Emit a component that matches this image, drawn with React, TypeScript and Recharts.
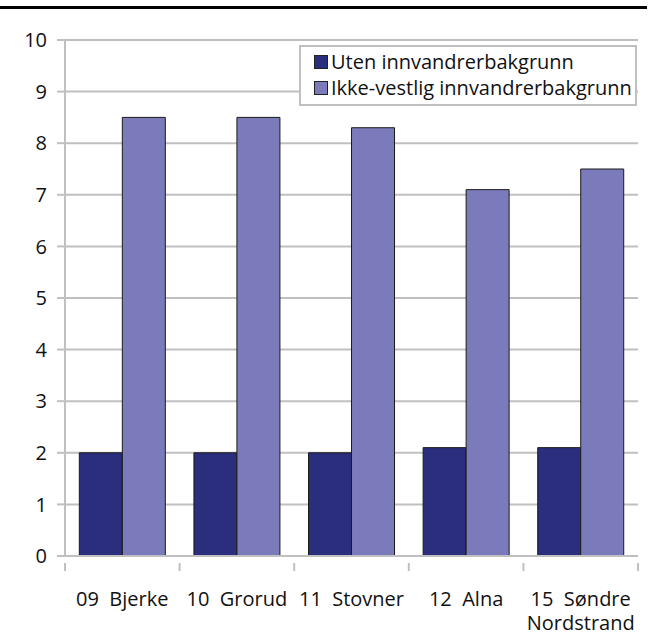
import React from "react";
import { BarChart, Bar, XAxis, YAxis, CartesianGrid } from "recharts";

const categories = ["09  Bjerke", "10  Grorud", "11  Stovner", "12  Alna", "15  Søndre\nNordstrand"];
const utenValues = [2.0, 2.0, 2.0, 2.1, 2.1];
const ikkeValues = [8.5, 8.5, 8.3, 7.1, 7.5];
const yTicks = [0, 1, 2, 3, 4, 5, 6, 7, 8, 9, 10];
const seriesNames = ["Uten innvandrerbakgrunn", "Ikke-vestlig innvandrerbakgrunn"];
const colors = ["#2a2e7d", "#7b7bbb"];

const data = categories.map((c, i) => ({ name: c, uten: utenValues[i], ikke: ikkeValues[i] }));

const FONT = "'Open Sans', sans-serif";
const GRAY = "#c0c0c0";
const FS = 20;

const CatTick = (props: any) => {
  const { x, y, payload, index, visibleTicksCount } = props;
  const off = payload.offset || 0;
  const lines = String(payload.value).split("\n");
  return (
    <g>
      <line x1={x - off} x2={x - off} y1={y - 1} y2={y + 7} stroke={GRAY} strokeWidth={2} />
      {index === visibleTicksCount - 1 && (
        <line x1={x + off} x2={x + off} y1={y - 1} y2={y + 7} stroke={GRAY} strokeWidth={2} />
      )}
      {lines.map((l, i) => (
        <text
          key={i}
          x={x}
          y={y + 42 + i * 24}
          textAnchor="middle"
          fontFamily={FONT}
          fontSize={FS}
          fill="#111"
          style={{ whiteSpace: "pre" }}
        >
          {l}
        </text>
      ))}
    </g>
  );
};

const LegendBox = () => (
  <div
    style={{
      position: "absolute",
      left: 299,
      top: 45,
      width: 334,
      height: 57,
      border: `2px solid ${GRAY}`,
      background: "#fff",
      fontFamily: FONT,
      fontSize: FS,
      color: "#111",
      boxSizing: "content-box",
      zIndex: 2,
    }}
  >
    {seriesNames.map((n, i) => (
      <div
        key={n}
        style={{
          position: "absolute",
          left: 13,
          top: i === 0 ? 2 : 28,
          height: 26,
          display: "flex",
          alignItems: "center",
          lineHeight: "26px",
        }}
      >
        <span
          style={{
            display: "inline-block",
            width: 12,
            height: 12,
            background: colors[i],
            border: "1px solid #222",
            marginRight: 3,
          }}
        />
        <span style={{ whiteSpace: "nowrap" }}>{n}</span>
      </div>
    ))}
  </div>
);

export default function App() {
  return (
    <div style={{ position: "absolute", left: 0, top: 0, width: 651, height: 632, background: "#fff" }}>
      <div style={{ position: "absolute", left: 0, top: 6, width: 647, height: 3, background: "#000" }} />
      <div style={{ position: "absolute", left: 0, top: 0 }}>
        <BarChart
          width={651}
          height={632}
          data={data}
          margin={{ top: 40, right: 13, bottom: 0, left: 0 }}
          barCategoryGap="12.5%"
          barGap={0}
        >
          <CartesianGrid vertical={false} stroke={GRAY} strokeWidth={2} />
          <XAxis
            dataKey="name"
            interval={0}
            height={76}
            axisLine={{ stroke: GRAY, strokeWidth: 2 }}
            tickLine={false}
            tick={<CatTick />}
          />
          <YAxis
            width={65}
            domain={[0, 10]}
            ticks={yTicks}
            interval={0}
            axisLine={{ stroke: GRAY, strokeWidth: 2 }}
            tickLine={{ stroke: GRAY, strokeWidth: 2 }}
            tickSize={8}
            tickMargin={10}
            tick={{ fontFamily: FONT, fontSize: FS, fill: "#111" }}
          />
          <Bar dataKey="uten" name={seriesNames[0]} fill={colors[0]} stroke="#1a1a1a" strokeWidth={1} isAnimationActive={false} />
          <Bar dataKey="ikke" name={seriesNames[1]} fill={colors[1]} stroke="#1a1a1a" strokeWidth={1} isAnimationActive={false} />
        </BarChart>
      </div>
      <LegendBox />
    </div>
  );
}
